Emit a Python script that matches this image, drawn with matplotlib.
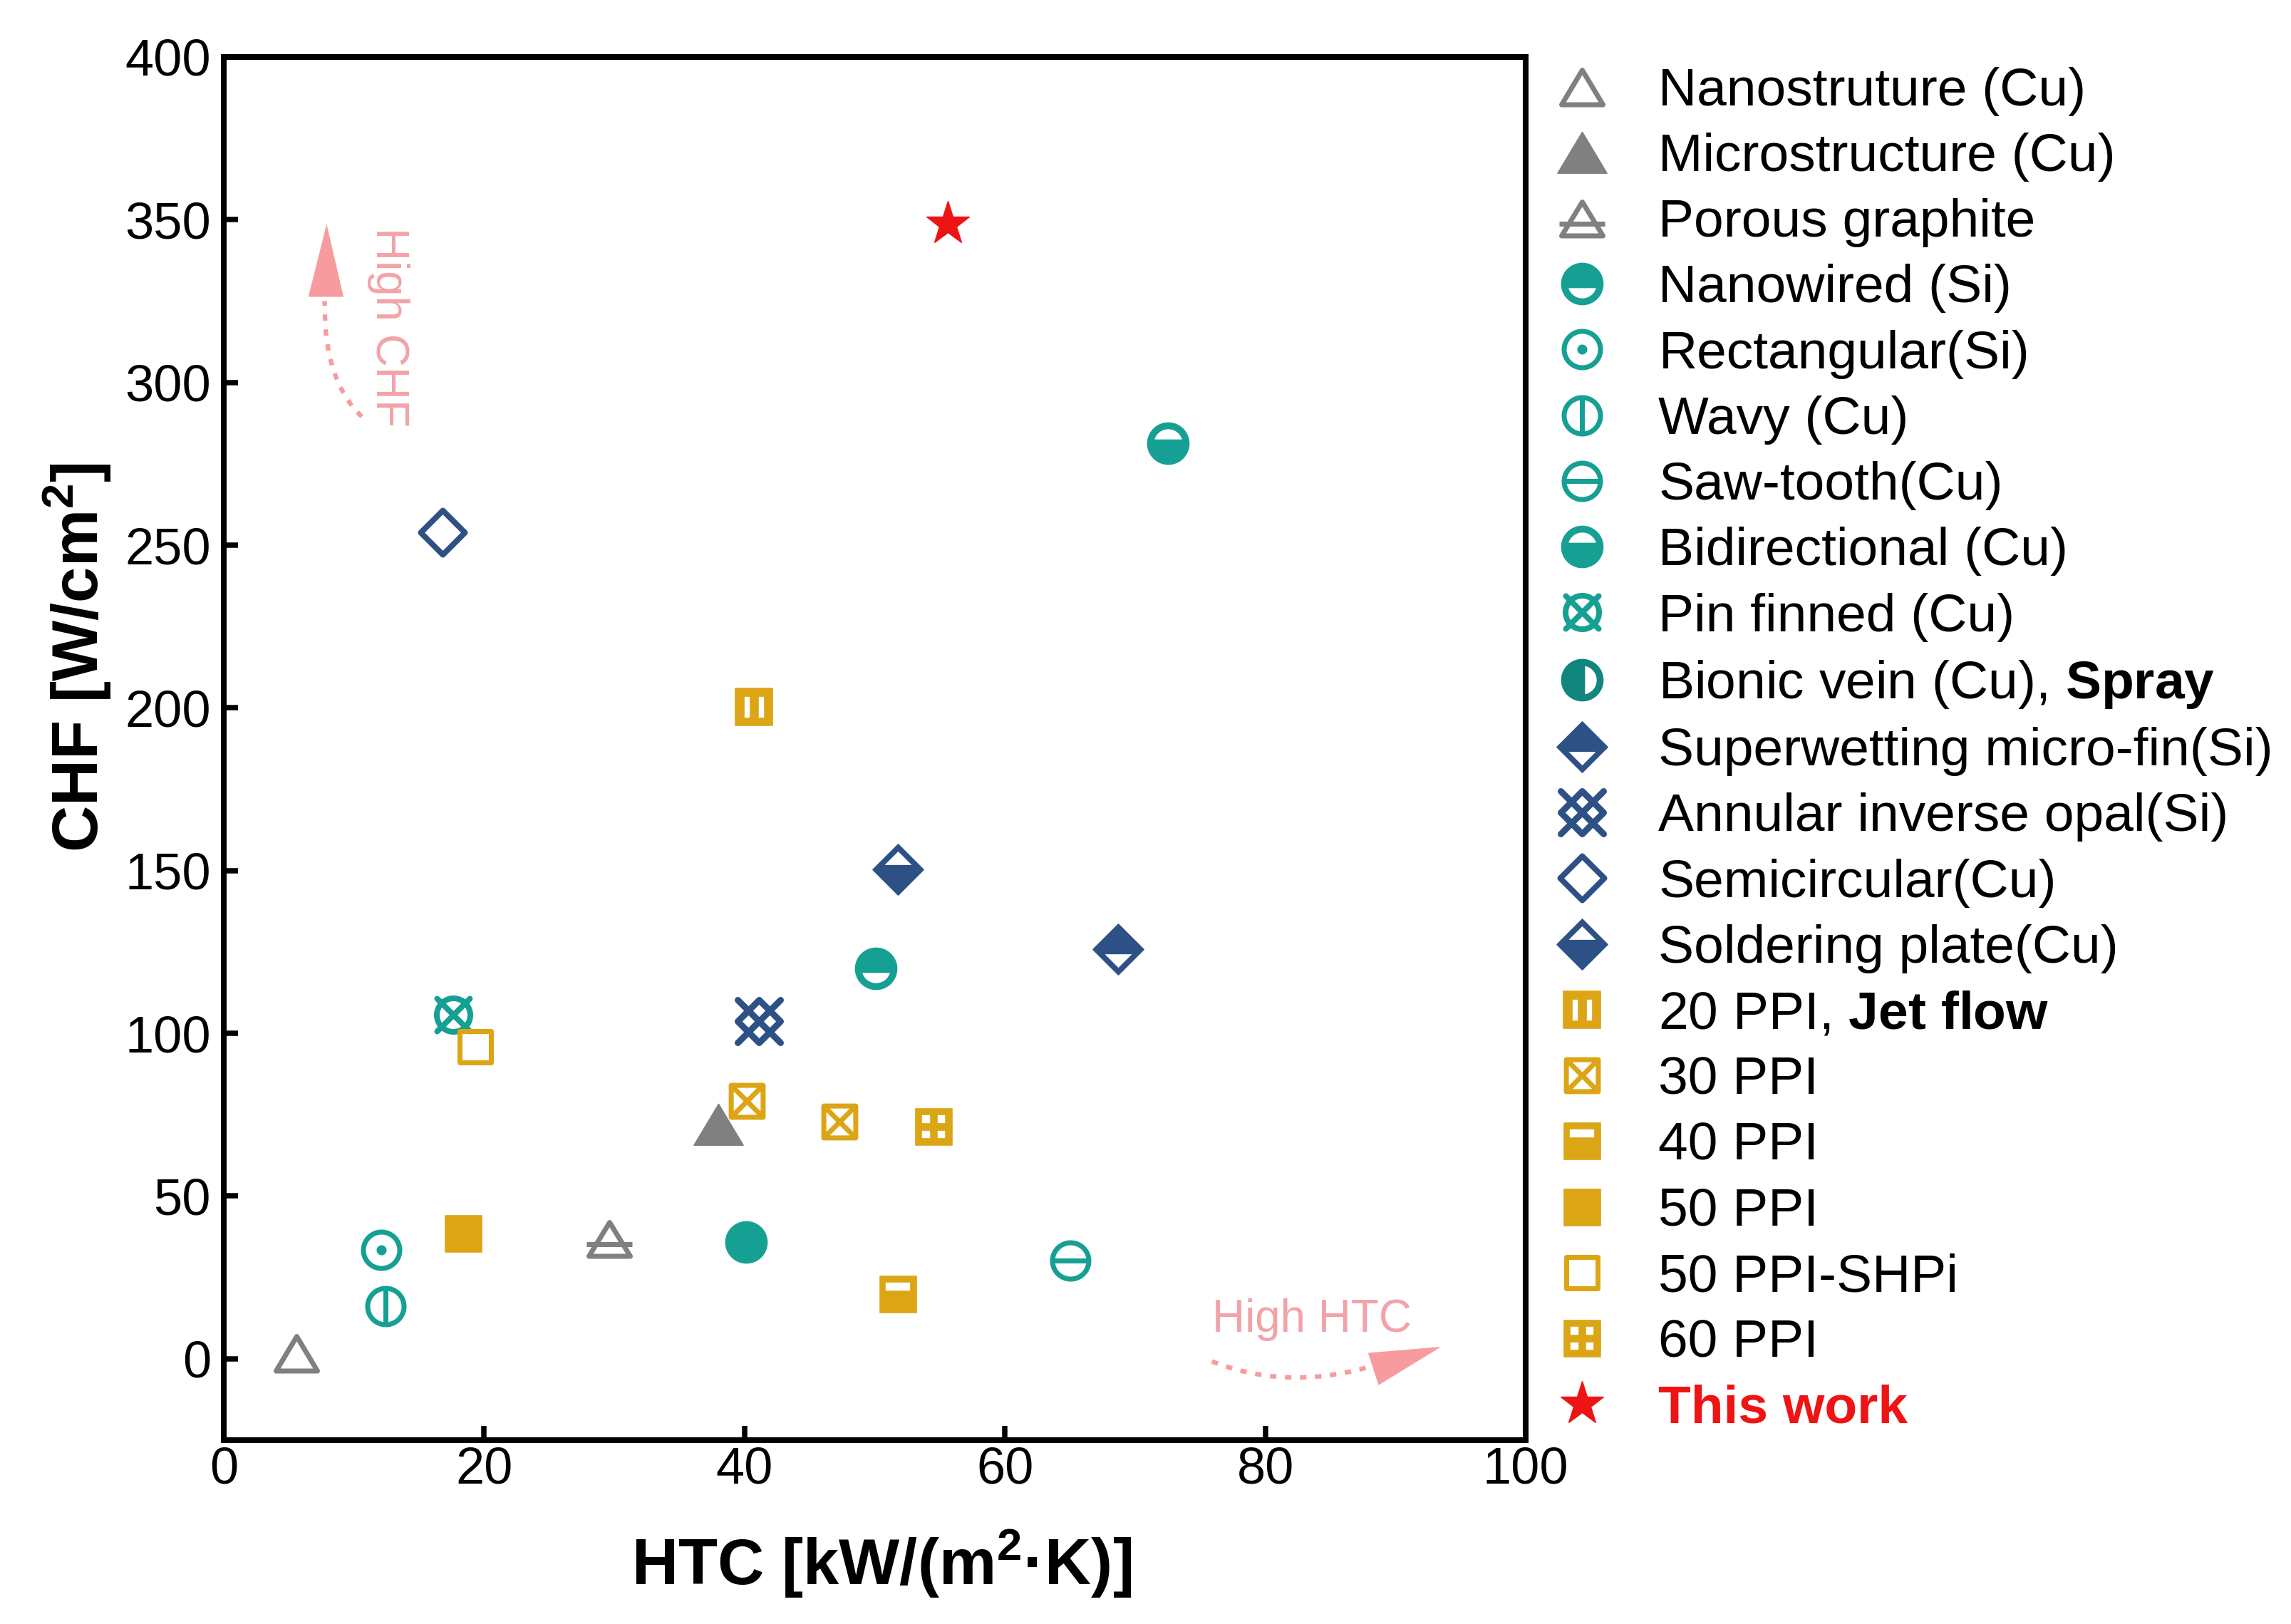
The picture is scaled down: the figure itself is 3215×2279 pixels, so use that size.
import numpy as np
import matplotlib
matplotlib.use('Agg')
import matplotlib.pyplot as plt
from matplotlib.path import Path
from matplotlib.markers import MarkerStyle
from matplotlib.lines import Line2D
from matplotlib.patches import PathPatch, Polygon

plt.rcParams['font.family'] = ['Liberation Sans', 'DejaVu Sans']
plt.rcParams['mathtext.fontset'] = 'custom'
plt.rcParams['mathtext.rm'] = 'Liberation Sans'
plt.rcParams['mathtext.bf'] = 'Liberation Sans:bold'
plt.rcParams['mathtext.it'] = 'Liberation Sans:italic'

DPI = 200
PX = 72.0 / DPI  # points per output pixel

# ---------------- data ----------------
labels = [
    'Nanostruture (Cu)', 'Microstructure (Cu)', 'Porous graphite',
    'Nanowired (Si)', 'Rectangular(Si)', 'Wavy (Cu)', 'Saw-tooth(Cu)',
    'Bidirectional (Cu)', 'Pin finned (Cu)',
    r'Bionic vein (Cu), $\mathbf{Spray}$',
    'Superwetting micro-fin(Si)', 'Annular inverse opal(Si)',
    'Semicircular(Cu)', 'Soldering plate(Cu)',
    r'20 PPI, $\mathbf{Jet\ flow}$', '30 PPI', '40 PPI', '50 PPI',
    '50 PPI-SHPi', '60 PPI', 'This work',
]
htc = [[5.6], [38.0], [29.6], [50.1], [12.1], [12.4], [65.0], [72.5], [17.6],
       [40.1], [68.7], [41.1], [16.8], [51.8], [40.7], [40.2, 47.3], [51.8],
       [18.4], [19.3], [54.5], [55.6]]
chf = [[2.0], [72.0], [37.0], [119.9], [33.5], [16.2], [30.2], [281.4], [105.8],
       [35.9], [125.8], [103.7], [254.0], [150.3], [200.4], [79.2, 72.9], [19.9],
       [38.5], [95.8], [71.4], [348.8]]
xticks = [0, 20, 40, 60, 80, 100]
yticks = [0, 50, 100, 150, 200, 250, 300, 350, 400]

GRAY = '#808080'
TEAL = '#16A094'
TEAL_D = '#12857F'
NAVY = '#2E5185'
GOLD = '#DBA515'
RED = '#EE1414'
PINK = '#F79B9E'
PINK_T = '#F2A3A8'


# ---------------- marker shapes (in output pixel units) ----------------
def area(p):
    p = np.asarray(p)
    return 0.5 * np.sum(p[:, 0] * np.roll(p[:, 1], -1) - np.roll(p[:, 0], -1) * p[:, 1])


def ring(pts, orient=None):
    pts = np.asarray(pts, float)
    if orient == 'ccw' and area(pts) < 0:
        pts = pts[::-1]
    if orient == 'cw' and area(pts) > 0:
        pts = pts[::-1]
    v = list(pts) + [pts[0]]
    c = [Path.MOVETO] + [Path.LINETO] * (len(pts) - 1) + [Path.CLOSEPOLY]
    return v, c


def seg(p, q):
    return [p, q], [Path.MOVETO, Path.LINETO]


def circ(r, n=90):
    t = np.linspace(0, 2 * np.pi, n, endpoint=False)
    return np.column_stack([r * np.cos(t), r * np.sin(t)])


def rect(x0, x1, y0, y1):
    return [(x0, y0), (x1, y0), (x1, y1), (x0, y1)]


def half_disk(r, cut, side):
    a = np.arcsin(cut / r)
    if side == 'bottom':
        t = np.linspace(np.pi + a, 2 * np.pi - a, 40)
    elif side == 'top':
        t = np.linspace(a, np.pi - a, 40)
    else:  # right
        t = np.linspace(-np.pi / 2 + a, np.pi / 2 - a, 40)
    return np.column_stack([r * np.cos(t), r * np.sin(t)])


def build(parts, join='round', cap='butt'):
    verts, codes = [], []
    for v, c in parts:
        verts.extend(v)
        codes.extend(c)
    verts = np.array(verts, float)
    ms = 2 * np.abs(verts).max() * PX
    return MarkerStyle(Path(verts, codes), joinstyle=join, capstyle=cap), ms


def diamond(h):
    return [(0, h), (-h, 0), (0, -h), (h, 0)]


shapes = {}
shapes[0] = build([ring([(0, 23), (-29, -25.5), (29, -25.5)])], join='miter')
shapes[1] = build([ring([(0, 29), (-34.5, -28.6), (34.5, -28.6)], 'ccw')], join='miter')
shapes[2] = build([ring([(0, 23), (-29, -24.5), (29, -24.5)]), seg((-32, -8), (32, -8))], join='miter')
shapes[3] = build([ring(circ(29), 'ccw'), ring(half_disk(21, 5, 'bottom'), 'cw')])
shapes[4] = build([ring(circ(25.5)), ring(circ(3.5))])
shapes[5] = build([ring(circ(25.5)), seg((0, -25.5), (0, 25.5))])
shapes[6] = build([ring(circ(25.5)), seg((-25.5, 0), (25.5, 0))])
shapes[7] = build([ring(circ(29), 'ccw'), ring(half_disk(21, 5, 'top'), 'cw')])
shapes[8] = build([ring(circ(23.5)), seg((-23, -23), (23, 23)), seg((-23, 23), (23, -23))], cap='round')
shapes[9] = build([ring(circ(29), 'ccw')])
shapes[10] = build([ring(diamond(35.5), 'ccw'), ring([(0, -26.8), (21, -5.8), (-21, -5.8)], 'cw')], join='miter')
shapes[11] = build([ring(diamond(30)), seg((-30, -30), (30, 30)), seg((-30, 30), (30, -30))], cap='round')
shapes[12] = build([ring(diamond(31))])
shapes[13] = build([ring(diamond(35.5), 'ccw'), ring([(0, 26.8), (-21, 5.8), (21, 5.8)], 'cw')], join='miter')
shapes[14] = build([ring(rect(-26, 26, -26, 26), 'ccw'),
                    ring(rect(-14.5, -5.5, -15.5, 15.5), 'cw'),
                    ring(rect(5.5, 14.5, -15.5, 15.5), 'cw')], join='miter')
shapes[15] = build([ring(rect(-22.4, 22.4, -22.4, 22.4)), seg((-22.4, -22.4), (22.4, 22.4)),
                    seg((-22.4, 22.4), (22.4, -22.4))], join='miter')
shapes[16] = build([ring(rect(-25.5, 25.5, -25.5, 25.5), 'ccw'),
                    ring(rect(-18, 18, 4, 17), 'cw')], join='miter')
shapes[17] = build([ring(rect(-25.5, 25.5, -25.5, 25.5), 'ccw')], join='miter')
shapes[18] = build([ring(rect(-22, 22, -22, 22))], join='miter')
holes60 = [ring(rect(x0, x1, y0, y1), 'cw') for (x0, x1) in [(-16.8, -4.5), (4.5, 16.8)]
           for (y0, y1) in [(-16.8, -4.5), (4.5, 16.8)]]
shapes[19] = build([ring(rect(-25.5, 25.5, -25.5, 25.5), 'ccw')] + holes60, join='miter')
bionic_legend = build([ring(circ(29), 'ccw'), ring(half_disk(21, 3, 'right'), 'cw')])

# style per series: (color, filled, edge width px)
styles = [
    (GRAY, False, 7), (GRAY, True, 0), (GRAY, False, 7),
    (TEAL, True, 0), (TEAL, False, 7), (TEAL, False, 7), (TEAL, False, 7),
    (TEAL, True, 0), (TEAL, False, 8), (TEAL, True, 0),
    (NAVY, True, 0), (NAVY, False, 9), (NAVY, False, 8), (NAVY, True, 0),
    (GOLD, True, 0), (GOLD, False, 7), (GOLD, True, 0), (GOLD, True, 0),
    (GOLD, False, 7), (GOLD, True, 0),
]

# ---------------- figure ----------------
fig = plt.figure(figsize=(3215 / DPI, 2279 / DPI), dpi=DPI)
ax = fig.add_axes([0.09767, 0.11321, 0.56827, 0.85169])

handles = []
for i, lab in enumerate(labels):
    if i == 20:
        h, = ax.plot(htc[i], chf[i], linestyle='none', marker='*', ms=23,
                     mfc=RED, mec=RED, mew=0.5, zorder=4)
        handles.append(h)
        continue
    col, filled, ew = styles[i]
    mk, ms = shapes[i]
    if filled:
        kw = dict(mfc=col, mec=col, mew=0.6)
    else:
        kw = dict(mfc='none', mec=col, mew=ew * PX)
    h, = ax.plot(htc[i], chf[i], linestyle='none', marker=mk, ms=ms, zorder=3, **kw)
    if i == 9:
        mk2, ms2 = bionic_legend
        h = Line2D([], [], linestyle='none', marker=mk2, ms=ms2, mfc=TEAL_D, mec=TEAL_D, mew=0.6)
    handles.append(h)

ax.set_xlim(0, 100)
ax.set_ylim(-25, 400)
ax.set_xticks(xticks)
ax.set_yticks(yticks)
ax.tick_params(direction='in', length=7.2, width=2.7, labelsize=26, top=False, right=False)
ax.tick_params(axis='x', pad=3)
ax.tick_params(axis='y', pad=6.5)
for s in ax.spines.values():
    s.set_linewidth(2.9)

ax.set_xlabel(r'HTC [kW/(m$^\mathbf{2}$·K)]', fontsize=32.5, fontweight='bold')
ax.set_ylabel(r'CHF [W/cm$^\mathbf{2}$]', fontsize=32.5, fontweight='bold')
ax.xaxis.set_label_coords(0.505, -0.063)
ax.yaxis.set_label_coords(-0.085, 0.566)

# ---------------- annotations ----------------
dots = (0, (1.4, 1.9))
ax.add_patch(PathPatch(Path([(10.6, 289.5), (7.65, 300.75), (7.75, 325.0)],
                            [Path.MOVETO, Path.CURVE3, Path.CURVE3]),
                       fill=False, ec=PINK, lw=2.3, ls=dots, zorder=2))
ax.add_patch(Polygon([(7.9, 348.6), (6.5, 326.3), (9.2, 326.3)], closed=True,
                     fc=PINK, ec='none', zorder=2))
ax.text(11.7, 317.1, 'High CHF', rotation=270, rotation_mode='anchor',
        ha='center', va='baseline', fontsize=23, color=PINK_T)

ax.add_patch(PathPatch(Path([(75.9, -0.8), (81.5, -9.7), (87.9, -2.6)],
                            [Path.MOVETO, Path.CURVE3, Path.CURVE3]),
                       fill=False, ec=PINK, lw=2.3, ls=dots, zorder=2))
ax.add_patch(Polygon([(93.5, 3.7), (87.9, 1.8), (88.7, -8.1)], closed=True,
                     fc=PINK, ec='none', zorder=2))
ax.text(83.6, 8.3, 'High HTC', ha='center', va='baseline', fontsize=23, color=PINK_T)

# ---------------- legend ----------------
leg = fig.legend(handles, labels, loc='upper left', bbox_to_anchor=(0.6789, 0.9589),
                 bbox_transform=fig.transFigure, frameon=False, fontsize=27,
                 handlelength=1.0, handleheight=0.7, handletextpad=0.93,
                 labelspacing=0.31, borderpad=0, borderaxespad=0, numpoints=1)
last = leg.get_texts()[-1]
last.set_color(RED)
last.set_fontweight('bold')

fig.savefig('out.png', dpi=DPI)
